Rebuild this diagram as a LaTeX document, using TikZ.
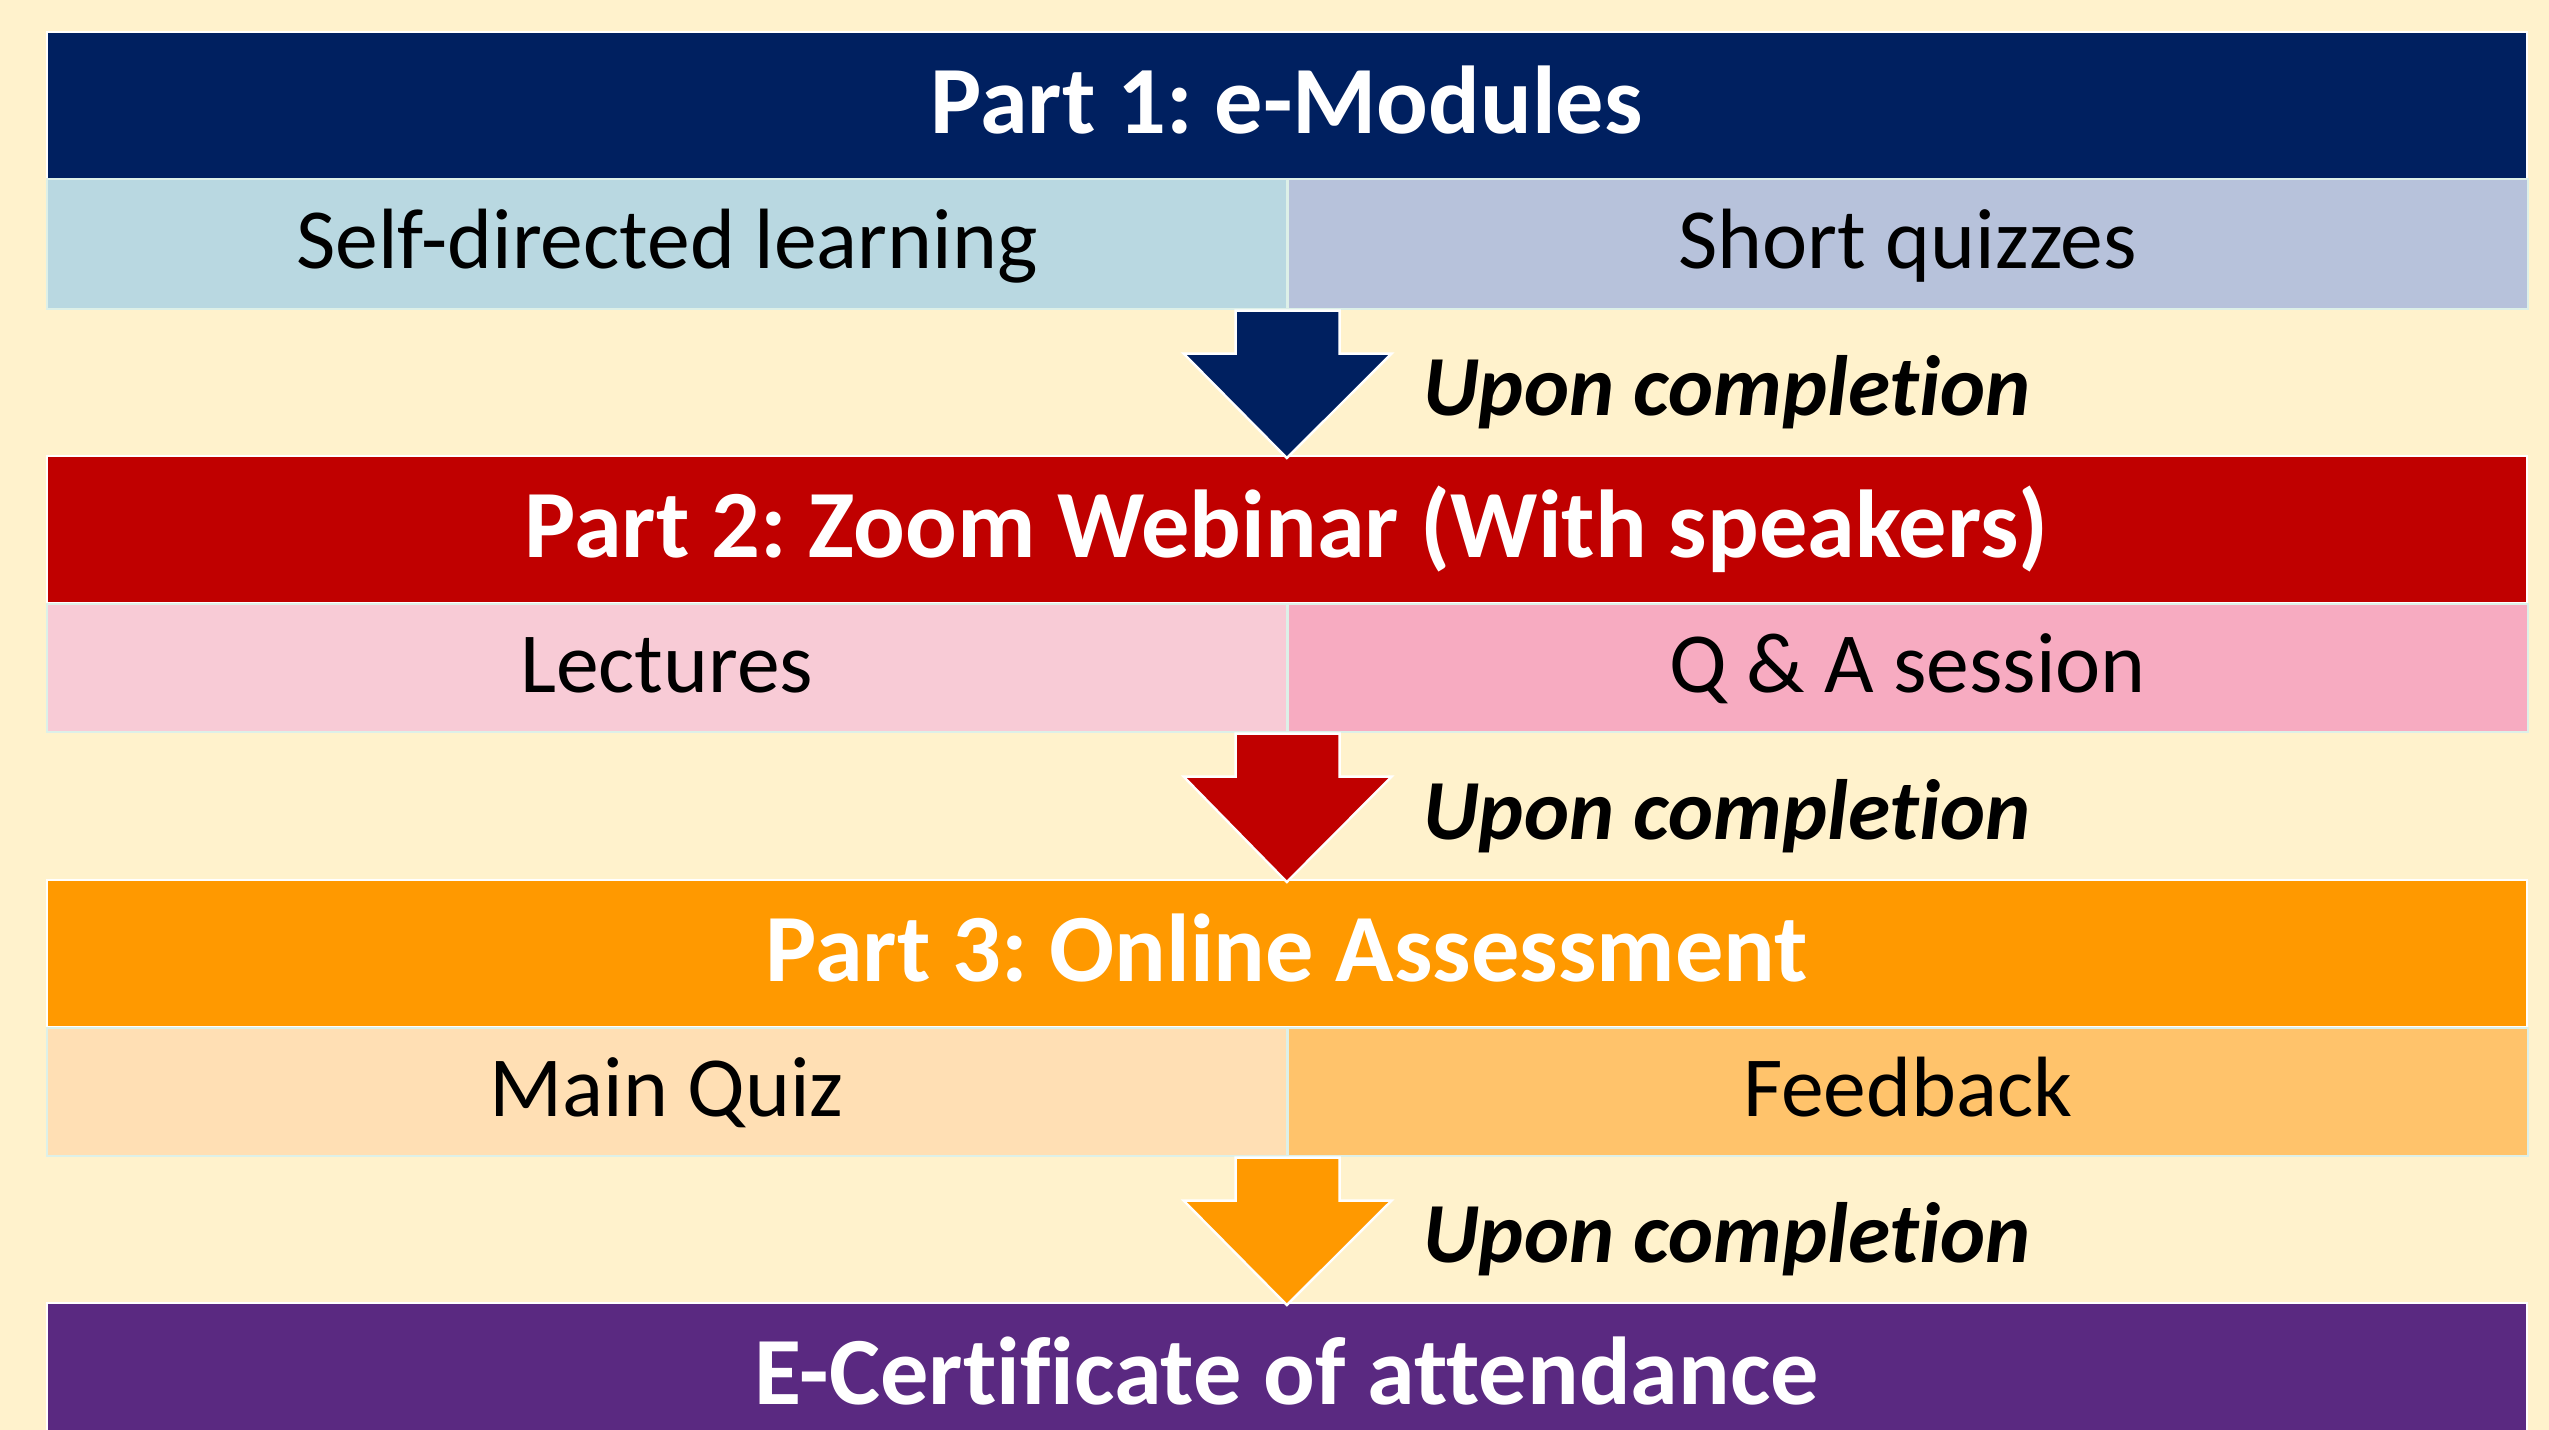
\documentclass[tikz,border=0pt]{standalone}
\usepackage{fontspec}
\setmainfont[RawFeature={-liga}]{Carlito}
\frenchspacing
\usetikzlibrary{calc}
\definecolor{bgc}{HTML}{FFF2CC}
\definecolor{blueH}{HTML}{002060}
\definecolor{blueA}{HTML}{B9D8E1}
\definecolor{blueB}{HTML}{B7C2DB}
\definecolor{redH}{HTML}{C00000}
\definecolor{redA}{HTML}{F8CBD6}
\definecolor{redB}{HTML}{F7ABC1}
\definecolor{orH}{HTML}{FF9900}
\definecolor{orA}{HTML}{FFDFB4}
\definecolor{orB}{HTML}{FFC36B}
\definecolor{puH}{HTML}{5A2981}
\definecolor{subline}{HTML}{DDF0E8}
\tikzset{
  head/.style={rectangle, anchor=north west, inner sep=0pt, minimum width=2480*0.25pt, minimum height=147*0.25pt,
    text height=14pt, text depth=0pt,
    draw=white, line width=0.4pt, text=white, font=\fontsize{24.1}{29}\selectfont\bfseries},
  sub/.style={rectangle, anchor=north west, inner sep=0pt, minimum width=1240*0.25pt, minimum height=128*0.25pt,
    text height=12.3pt, text depth=0pt,
    draw=subline, line width=0.4pt, text=black, font=\fontsize{21.4}{26}\selectfont},
  upon/.style={anchor=west, inner sep=0pt, font=\fontsize{21.4}{26}\selectfont\bfseries\itshape},
  blockarrow/.style={draw=white, line width=0.6pt}
}
\begin{document}
\begin{tikzpicture}[x=0.25pt, y=-0.25pt]
\useasboundingbox (0,0) rectangle (2549,1430);
\clip (0,0) rectangle (2549,1430);
\fill[bgc] (0,0) rectangle (2549,1430);
% Part 1
\node[head, fill=blueH] (h1) at (46,31) {Part 1: e-Modules};
\node[sub, fill=blueA, minimum height=130*0.25pt] (a1) at (46,178) {Self-directed learning};
\node[sub, fill=blueB, minimum height=130*0.25pt] (b1) at (1287,178) {Short quizzes};
% Part 2
\node[head, fill=redH] (h2) at (46,455) {Part 2: Zoom Webinar (With speakers)};
\node[sub, fill=redA] (a2) at (46,603) {Lectures};
\node[sub, fill=redB] (b2) at (1287,603) {Q \& A session};
% Part 3
\node[head, fill=orH] (h3) at (46,879) {Part 3: Online Assessment};
\node[sub, fill=orA] (a3) at (46,1027) {Main Quiz};
\node[sub, fill=orB] (b3) at (1287,1027) {Feedback};
% Part 4
\node[head, fill=puH] (h4) at (46,1302) {E-Certificate of attendance};
% arrows
\foreach \up/\dn/\col in {a1/h2/blueH, a2/h3/redH, a3/h4/orH}{
  \coordinate (st) at (\up.south east);
  \coordinate (tp) at (\dn.north);
  \fill[\col, blockarrow] ($(st)+(-52,1)$) -- ($(st)+(52,1)$) -- ($(st)+(52,44)$) -- ($(st)+(104,44)$)
     -- ($(tp)+(0,3)$) -- ($(st)+(-104,44)$) -- ($(st)+(-52,44)$) -- cycle;
}
\node[upon] (u1) at ($(a1.south east)!0.5!(h2.north)+(135,10)$) {Upon completion};
\node[upon] (u2) at ($(a2.south east)!0.5!(h3.north)+(135,10)$) {Upon completion};
\node[upon] (u3) at ($(a3.south east)!0.5!(h4.north)+(135,10)$) {Upon completion};
\end{tikzpicture}
\end{document}
